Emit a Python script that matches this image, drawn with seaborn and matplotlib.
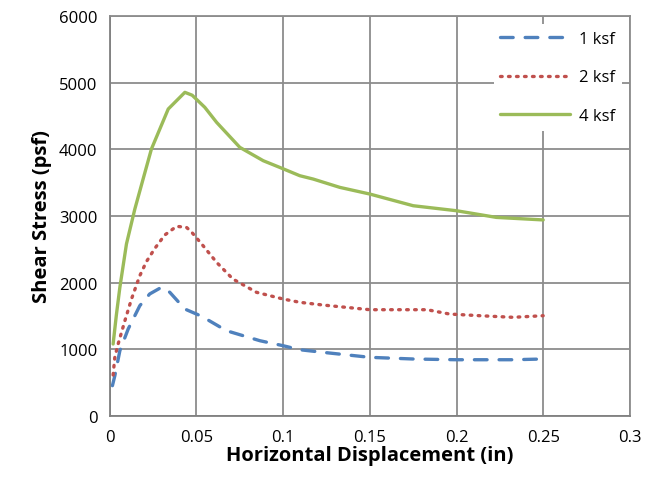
import matplotlib
matplotlib.use("Agg")
import matplotlib.pyplot as plt
import pandas as pd
import seaborn as sns

# data
x_1ksf = [0.0015, 0.0029, 0.0058, 0.0106, 0.0173, 0.023, 0.0298, 0.0346, 0.0433, 0.053,
          0.0673, 0.0866, 0.1, 0.1096, 0.123, 0.15, 0.175, 0.2, 0.2327, 0.25]
y_1ksf = [455, 605, 980, 1305, 1654, 1830, 1930, 1855, 1604, 1495,
          1279, 1129, 1054, 994, 955, 880, 855, 844, 844, 855]

x_2ksf = [0.0019, 0.0029, 0.0048, 0.0087, 0.0125, 0.0173, 0.0211, 0.026, 0.0317, 0.0385,
          0.0442, 0.047, 0.053, 0.0616, 0.071, 0.0846, 0.1, 0.1096, 0.123, 0.15,
          0.175, 0.183, 0.196, 0.2135, 0.2327, 0.25]
y_2ksf = [615, 885, 1080, 1429, 1754, 2104, 2314, 2514, 2714, 2844,
          2829, 2763, 2579, 2304, 2054, 1855, 1754, 1705, 1664, 1594,
          1594, 1594, 1529, 1504, 1480, 1504]

x_4ksf = [0.0019, 0.0038, 0.0058, 0.0096, 0.0144, 0.0192, 0.024, 0.0337, 0.0433, 0.0475,
          0.0548, 0.0616, 0.075, 0.0885, 0.098, 0.1096, 0.1173, 0.1327, 0.15, 0.175,
          0.2, 0.223, 0.25]
y_4ksf = [1080, 1520, 1930, 2580, 3100, 3553, 4003, 4603, 4853, 4810,
          4628, 4403, 4028, 3828, 3728, 3603, 3553, 3428, 3328, 3153,
          3078, 2978, 2940]

labels = ["1 ksf", "2 ksf", "4 ksf"]
colors = ["#4F81BD", "#C0504D", "#9BBB59"]
styles = [(0, (3.8, 3.6)), (0, (0.5, 1.9)), "-"]

sns.set_style("white")
plt.rcParams["font.family"] = ["Open Sans", "DejaVu Sans"]
plt.rcParams["text.color"] = "black"
plt.rcParams["axes.labelcolor"] = "black"

fig = plt.figure(figsize=(6.46, 4.81), dpi=100)
ax = fig.add_axes([0.170, 0.133, 0.805, 0.832])

series = [(x_1ksf, y_1ksf), (x_2ksf, y_2ksf), (x_4ksf, y_4ksf)]
for (xs, ys), lab, col, ls in zip(series, labels, colors, styles):
    df = pd.DataFrame({"x": xs, "y": ys})
    sns.lineplot(data=df, x="x", y="y", ax=ax, color=col, label=lab,
                 linewidth=2.4, linestyle=ls, sort=False,
                 solid_capstyle="round", dash_capstyle="round")

ax.set_xlim(0, 0.3)
ax.set_ylim(0, 6000)
ax.set_xticks([0, 0.05, 0.1, 0.15, 0.2, 0.25, 0.3])
ax.set_xticklabels(["0", "0.05", "0.1", "0.15", "0.2", "0.25", "0.3"])
ax.set_yticks(range(0, 6001, 1000))
ax.grid(True, color="#8c8c8c", linewidth=1.3)
ax.set_axisbelow(True)
for s in ["top", "right"]:
    ax.spines[s].set_color("#8c8c8c")
    ax.spines[s].set_linewidth(1.3)
for s in ["left", "bottom"]:
    ax.spines[s].set_color("#808080")
    ax.spines[s].set_linewidth(1.3)
ax.tick_params(axis="both", direction="out", length=5, width=1.2, color="#808080",
               labelsize=12, labelcolor="black", pad=4)

ax.set_xlabel("Horizontal Displacement (in)", fontsize=14.5, fontweight="bold", labelpad=0)
ax.set_ylabel("Shear Stress (psf)", fontsize=14.5, fontweight="bold", labelpad=5)

leg = ax.legend(loc="upper right", frameon=True, fontsize=12, handlelength=4.2,
                labelspacing=1.35, borderaxespad=0.5, handletextpad=0.5)
leg.get_frame().set_facecolor("white")
leg.get_frame().set_edgecolor("none")
leg.get_frame().set_alpha(1)
for t in leg.get_texts():
    t.set_color("black")

fig.savefig("out.png", dpi=100)
